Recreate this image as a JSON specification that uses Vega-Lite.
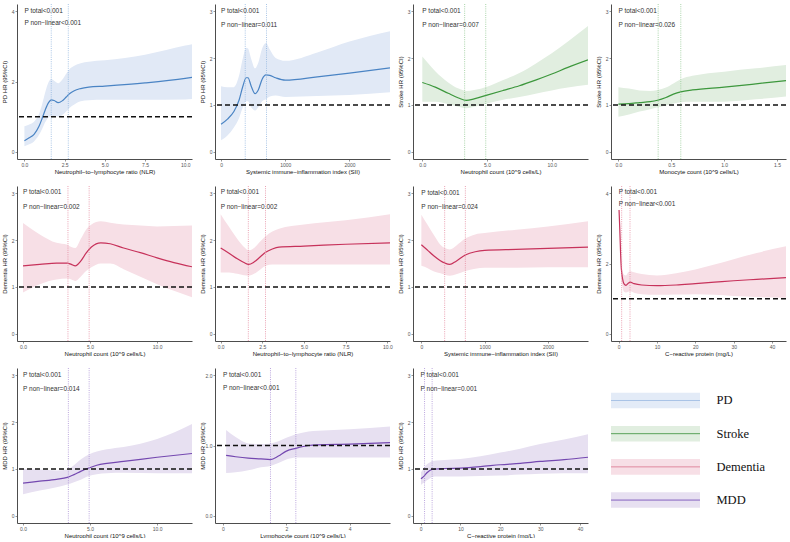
{
"$schema":"https://vega.github.io/schema/vega-lite/v6.json",
"background":"white",
"padding":{"left":1,"top":3,"right":0,"bottom":0},
"columns":4,
"bounds":"flush",
"spacing":{"row":27,"column":23},
"datasets":{
"p1":[{"x":0,"hr":0.32,"lo":0.16,"hi":0.73},{"x":0.3,"hr":0.4,"lo":0.22,"hi":0.78},{"x":0.6,"hr":0.5,"lo":0.3,"hi":0.86},{"x":0.9,"hr":0.72,"lo":0.48,"hi":1.07},{"x":1.1,"hr":0.95,"lo":0.65,"hi":1.35},{"x":1.3,"hr":1.2,"lo":0.85,"hi":1.7},{"x":1.5,"hr":1.4,"lo":0.98,"hi":1.98},{"x":1.67,"hr":1.48,"lo":1.02,"hi":2.07},{"x":1.85,"hr":1.46,"lo":1.02,"hi":2.02},{"x":2.1,"hr":1.4,"lo":1.0,"hi":1.95},{"x":2.35,"hr":1.45,"lo":1.05,"hi":2.05},{"x":2.6,"hr":1.56,"lo":1.15,"hi":2.22},{"x":2.8,"hr":1.65,"lo":1.25,"hi":2.35},{"x":3.1,"hr":1.74,"lo":1.35,"hi":2.45},{"x":3.5,"hr":1.8,"lo":1.44,"hi":2.52},{"x":4.0,"hr":1.84,"lo":1.47,"hi":2.56},{"x":5.0,"hr":1.87,"lo":1.48,"hi":2.6},{"x":7.5,"hr":1.96,"lo":1.48,"hi":2.76},{"x":10.0,"hr":2.09,"lo":1.49,"hi":3.02},{"x":10.42,"hr":2.12,"lo":1.5,"hi":3.06}],
"p2":[{"x":0,"hr":0.59,"lo":0.25,"hi":1.4},{"x":100,"hr":0.7,"lo":0.35,"hi":1.38},{"x":200,"hr":0.86,"lo":0.52,"hi":1.38},{"x":280,"hr":1.1,"lo":0.72,"hi":1.62},{"x":340,"hr":1.4,"lo":0.95,"hi":2.0},{"x":390,"hr":1.58,"lo":1.08,"hi":2.22},{"x":420,"hr":1.58,"lo":1.08,"hi":2.2},{"x":470,"hr":1.4,"lo":0.95,"hi":1.98},{"x":530,"hr":1.24,"lo":0.88,"hi":1.78},{"x":580,"hr":1.32,"lo":0.95,"hi":1.9},{"x":640,"hr":1.55,"lo":1.08,"hi":2.2},{"x":700,"hr":1.64,"lo":1.12,"hi":2.32},{"x":760,"hr":1.63,"lo":1.18,"hi":2.18},{"x":850,"hr":1.58,"lo":1.2,"hi":2.0},{"x":1000,"hr":1.53,"lo":1.17,"hi":1.94},{"x":1500,"hr":1.6,"lo":1.19,"hi":2.12},{"x":2000,"hr":1.68,"lo":1.21,"hi":2.35},{"x":2631,"hr":1.79,"lo":1.27,"hi":2.57}],
"p3":[{"x":0,"hr":1.48,"lo":1.07,"hi":2.03},{"x":1.0,"hr":1.38,"lo":1.07,"hi":1.72},{"x":2.0,"hr":1.25,"lo":1.02,"hi":1.48},{"x":2.8,"hr":1.15,"lo":0.96,"hi":1.35},{"x":3.4,"hr":1.1,"lo":0.93,"hi":1.3},{"x":4.0,"hr":1.13,"lo":0.96,"hi":1.32},{"x":5.0,"hr":1.21,"lo":1.03,"hi":1.39},{"x":6.25,"hr":1.31,"lo":1.11,"hi":1.53},{"x":7.5,"hr":1.41,"lo":1.17,"hi":1.68},{"x":8.75,"hr":1.53,"lo":1.24,"hi":1.88},{"x":10.0,"hr":1.66,"lo":1.31,"hi":2.1},{"x":11.25,"hr":1.8,"lo":1.37,"hi":2.35},{"x":12.8,"hr":1.96,"lo":1.43,"hi":2.68}],
"p4":[{"x":0,"hr":1.02,"lo":0.75,"hi":1.38},{"x":0.1,"hr":1.03,"lo":0.8,"hi":1.35},{"x":0.2,"hr":1.05,"lo":0.86,"hi":1.31},{"x":0.3,"hr":1.07,"lo":0.91,"hi":1.3},{"x":0.37,"hr":1.1,"lo":0.95,"hi":1.32},{"x":0.45,"hr":1.16,"lo":0.99,"hi":1.37},{"x":0.52,"hr":1.23,"lo":1.03,"hi":1.46},{"x":0.59,"hr":1.28,"lo":1.06,"hi":1.55},{"x":0.7,"hr":1.32,"lo":1.07,"hi":1.62},{"x":1.0,"hr":1.38,"lo":1.07,"hi":1.71},{"x":1.3,"hr":1.45,"lo":1.12,"hi":1.78},{"x":1.585,"hr":1.52,"lo":1.18,"hi":1.85}],
"p5":[{"x":0,"hr":1.45,"lo":0.88,"hi":2.36},{"x":1.25,"hr":1.48,"lo":1.06,"hi":2.12},{"x":2.5,"hr":1.51,"lo":1.16,"hi":1.94},{"x":3.3,"hr":1.51,"lo":1.18,"hi":1.9},{"x":3.6,"hr":1.48,"lo":1.16,"hi":1.85},{"x":3.9,"hr":1.45,"lo":1.13,"hi":1.83},{"x":4.3,"hr":1.55,"lo":1.22,"hi":2.02},{"x":4.7,"hr":1.72,"lo":1.34,"hi":2.22},{"x":5.1,"hr":1.85,"lo":1.42,"hi":2.33},{"x":5.8,"hr":1.94,"lo":1.5,"hi":2.4},{"x":6.5,"hr":1.92,"lo":1.5,"hi":2.37},{"x":7.5,"hr":1.83,"lo":1.38,"hi":2.33},{"x":8.75,"hr":1.73,"lo":1.22,"hi":2.31},{"x":10,"hr":1.62,"lo":1.06,"hi":2.29},{"x":11.25,"hr":1.52,"lo":0.92,"hi":2.3},{"x":12.6,"hr":1.43,"lo":0.78,"hi":2.31}],
"p6":[{"x":0,"hr":1.83,"lo":1.31,"hi":2.55},{"x":0.5,"hr":1.72,"lo":1.31,"hi":2.28},{"x":1.0,"hr":1.6,"lo":1.28,"hi":2.02},{"x":1.4,"hr":1.52,"lo":1.25,"hi":1.85},{"x":1.68,"hr":1.48,"lo":1.24,"hi":1.78},{"x":2.0,"hr":1.53,"lo":1.28,"hi":1.83},{"x":2.4,"hr":1.65,"lo":1.38,"hi":1.98},{"x":2.7,"hr":1.74,"lo":1.45,"hi":2.08},{"x":3.1,"hr":1.81,"lo":1.48,"hi":2.18},{"x":3.5,"hr":1.85,"lo":1.48,"hi":2.24},{"x":5.0,"hr":1.87,"lo":1.48,"hi":2.33},{"x":7.5,"hr":1.91,"lo":1.48,"hi":2.42},{"x":10.16,"hr":1.94,"lo":1.48,"hi":2.55}],
"p7":[{"x":0,"hr":1.9,"lo":1.45,"hi":2.54},{"x":100,"hr":1.78,"lo":1.4,"hi":2.32},{"x":200,"hr":1.66,"lo":1.33,"hi":2.1},{"x":300,"hr":1.56,"lo":1.29,"hi":1.9},{"x":370,"hr":1.51,"lo":1.26,"hi":1.83},{"x":450,"hr":1.48,"lo":1.24,"hi":1.8},{"x":550,"hr":1.55,"lo":1.27,"hi":1.88},{"x":695,"hr":1.68,"lo":1.34,"hi":2.03},{"x":850,"hr":1.75,"lo":1.39,"hi":2.12},{"x":1000,"hr":1.78,"lo":1.41,"hi":2.15},{"x":1500,"hr":1.8,"lo":1.41,"hi":2.22},{"x":2000,"hr":1.82,"lo":1.42,"hi":2.29},{"x":2632,"hr":1.85,"lo":1.42,"hi":2.4}],
"p8":[{"x":0.1,"hr":3.52,"lo":3.4,"hi":3.62},{"x":0.3,"hr":2.95,"lo":2.75,"hi":3.1},{"x":0.5,"hr":2.3,"lo":2.05,"hi":2.5},{"x":0.7,"hr":1.85,"lo":1.6,"hi":2.05},{"x":1.0,"hr":1.58,"lo":1.35,"hi":1.8},{"x":1.4,"hr":1.42,"lo":1.2,"hi":1.68},{"x":1.9,"hr":1.38,"lo":1.18,"hi":1.66},{"x":2.5,"hr":1.44,"lo":1.2,"hi":1.75},{"x":3.0,"hr":1.47,"lo":1.21,"hi":1.78},{"x":4.0,"hr":1.43,"lo":1.17,"hi":1.75},{"x":6.0,"hr":1.39,"lo":1.13,"hi":1.7},{"x":10,"hr":1.37,"lo":1.11,"hi":1.66},{"x":15,"hr":1.39,"lo":1.12,"hi":1.72},{"x":20,"hr":1.43,"lo":1.13,"hi":1.83},{"x":25,"hr":1.47,"lo":1.11,"hi":1.97},{"x":30,"hr":1.51,"lo":1.08,"hi":2.12},{"x":36,"hr":1.55,"lo":1.05,"hi":2.3},{"x":43.65,"hr":1.6,"lo":1.03,"hi":2.49}],
"p9":[{"x":0,"hr":0.7,"lo":0.46,"hi":1.0},{"x":1.25,"hr":0.74,"lo":0.54,"hi":0.99},{"x":2.5,"hr":0.78,"lo":0.61,"hi":0.97},{"x":3.3,"hr":0.82,"lo":0.67,"hi":0.99},{"x":3.8,"hr":0.88,"lo":0.72,"hi":1.08},{"x":4.3,"hr":0.95,"lo":0.77,"hi":1.2},{"x":4.9,"hr":1.02,"lo":0.85,"hi":1.31},{"x":5.5,"hr":1.08,"lo":0.89,"hi":1.37},{"x":6.25,"hr":1.12,"lo":0.91,"hi":1.42},{"x":7.5,"hr":1.16,"lo":0.92,"hi":1.47},{"x":10,"hr":1.25,"lo":0.91,"hi":1.64},{"x":12.6,"hr":1.33,"lo":0.91,"hi":1.96}],
"p10":[{"x":0.1,"hr":0.86,"lo":0.61,"hi":1.22},{"x":0.4,"hr":0.84,"lo":0.62,"hi":1.12},{"x":0.8,"hr":0.82,"lo":0.65,"hi":1.03},{"x":1.2,"hr":0.81,"lo":0.69,"hi":1.02},{"x":1.5,"hr":0.8,"lo":0.71,"hi":1.03},{"x":1.75,"hr":0.85,"lo":0.75,"hi":1.06},{"x":2.0,"hr":0.92,"lo":0.8,"hi":1.11},{"x":2.3,"hr":0.96,"lo":0.83,"hi":1.16},{"x":2.7,"hr":1.0,"lo":0.83,"hi":1.2},{"x":3.0,"hr":1.01,"lo":0.83,"hi":1.21},{"x":4.0,"hr":1.02,"lo":0.83,"hi":1.23},{"x":5.27,"hr":1.04,"lo":0.83,"hi":1.27}],
"p11":[{"x":0.1,"hr":0.79,"lo":0.66,"hi":0.93},{"x":0.5,"hr":0.82,"lo":0.69,"hi":0.98},{"x":1.0,"hr":0.86,"lo":0.72,"hi":1.04},{"x":1.6,"hr":0.92,"lo":0.76,"hi":1.1},{"x":2.3,"hr":0.97,"lo":0.8,"hi":1.14},{"x":3.0,"hr":0.99,"lo":0.83,"hi":1.17},{"x":4.0,"hr":1.0,"lo":0.84,"hi":1.18},{"x":6.0,"hr":1.01,"lo":0.84,"hi":1.19},{"x":10,"hr":1.02,"lo":0.84,"hi":1.21},{"x":15,"hr":1.05,"lo":0.85,"hi":1.27},{"x":20,"hr":1.09,"lo":0.86,"hi":1.35},{"x":25,"hr":1.12,"lo":0.88,"hi":1.43},{"x":30,"hr":1.16,"lo":0.9,"hi":1.53},{"x":36,"hr":1.2,"lo":0.91,"hi":1.63},{"x":42,"hr":1.25,"lo":0.91,"hi":1.74}],
"k1":[{"k":1.67},{"k":2.73}],
"k2":[{"k":377},{"k":708}],
"k3":[{"k":3.27},{"k":4.9}],
"k4":[{"k":0.376},{"k":0.59}],
"k5":[{"k":3.35},{"k":4.93}],
"k6":[{"k":1.66},{"k":2.69}],
"k7":[{"k":368},{"k":695}],
"k8":[{"k":0.78},{"k":2.96}],
"k9":[{"k":3.38},{"k":4.93}],
"k10":[{"k":1.5},{"k":2.3}],
"k11":[{"k":1.0},{"k":2.9}],
"groups":[{"g":"PD"},{"g":"Stroke"},{"g":"Dementia"},{"g":"MDD"}],
"one":[{}]
},
"concat":[
{"width":175,"height":155,"layer":[
 {"data":{"name":"p1"},"mark":{"type":"area","color":"#e1e9f6","interpolate":"monotone","clip":true},"encoding":{"x":{"field":"x","type":"quantitative","scale":{"domain":[-0.46,10.42],"nice":false,"zero":false},"axis":{"title":"Neutrophil−to−lymphocyte ratio (NLR)","values":[0,2.5,5,7.5,10],"format":".1f","labelOverlap":false}},"y":{"field":"lo","type":"quantitative","scale":{"domain":[-0.2,4.2],"nice":false,"zero":false},"axis":{"title":"PD HR (95%CI)","values":[0,1,2,3,4],"format":"d","labelOverlap":false}},"y2":{"field":"hi"}}},
 {"data":{"name":"p1"},"mark":{"type":"line","color":"#4a84c4","strokeWidth":1.2,"interpolate":"monotone","clip":true},"encoding":{"x":{"field":"x","type":"quantitative"},"y":{"field":"hr","type":"quantitative"}}},
 {"data":{"name":"k1"},"mark":{"type":"rule","color":"#93b6e0","strokeDash":[1,1.2],"strokeWidth":0.8},"encoding":{"x":{"field":"k","type":"quantitative"}}},
 {"data":{"name":"one"},"mark":{"type":"rule","color":"#111","strokeDash":[5,3],"strokeWidth":1.4},"encoding":{"y":{"datum":1}}},
 {"data":{"name":"one"},"mark":{"type":"text","align":"left","baseline":"middle","fontSize":6.5,"font":"Liberation Sans","color":"#333"},"encoding":{"x":{"datum":0},"y":{"datum":4},"text":{"value":"P total<0.001"}}},
 {"data":{"name":"one"},"mark":{"type":"text","align":"left","baseline":"middle","fontSize":6.5,"font":"Liberation Sans","color":"#333"},"encoding":{"x":{"datum":0},"y":{"datum":3.66},"text":{"value":"P non−linear<0.001"}}}
]},
{"width":175,"height":155,"layer":[
 {"data":{"name":"p2"},"mark":{"type":"area","color":"#e1e9f6","interpolate":"monotone","clip":true},"encoding":{"x":{"field":"x","type":"quantitative","scale":{"domain":[-94,2631],"nice":false,"zero":false},"axis":{"title":"Systemic immune−inflammation index (SII)","values":[0,500,1000,1500,2000,2500],"format":"d","labelOverlap":false}},"y":{"field":"lo","type":"quantitative","scale":{"domain":[-0.15,3.15],"nice":false,"zero":false},"axis":{"title":"PD HR (95%CI)","values":[0,1,2,3],"format":"d","labelOverlap":false}},"y2":{"field":"hi"}}},
 {"data":{"name":"p2"},"mark":{"type":"line","color":"#4a84c4","strokeWidth":1.2,"interpolate":"monotone","clip":true},"encoding":{"x":{"field":"x","type":"quantitative"},"y":{"field":"hr","type":"quantitative"}}},
 {"data":{"name":"k2"},"mark":{"type":"rule","color":"#93b6e0","strokeDash":[1,1.2],"strokeWidth":0.8},"encoding":{"x":{"field":"k","type":"quantitative"}}},
 {"data":{"name":"one"},"mark":{"type":"rule","color":"#111","strokeDash":[5,3],"strokeWidth":1.4},"encoding":{"y":{"datum":1}}},
 {"data":{"name":"one"},"mark":{"type":"text","align":"left","baseline":"middle","fontSize":6.5,"font":"Liberation Sans","color":"#333"},"encoding":{"x":{"datum":0},"y":{"datum":3},"text":{"value":"P total<0.001"}}},
 {"data":{"name":"one"},"mark":{"type":"text","align":"left","baseline":"middle","fontSize":6.5,"font":"Liberation Sans","color":"#333"},"encoding":{"x":{"datum":0},"y":{"datum":2.71},"text":{"value":"P non−linear=0.011"}}}
]},
{"width":175,"height":155,"layer":[
 {"data":{"name":"p3"},"mark":{"type":"area","color":"#e1eee0","interpolate":"monotone","clip":true},"encoding":{"x":{"field":"x","type":"quantitative","scale":{"domain":[-0.72,12.8],"nice":false,"zero":false},"axis":{"title":"Neutrophil count (10^9 cells/L)","values":[0,2.5,5,7.5,10,12.5],"format":".1f","labelOverlap":false}},"y":{"field":"lo","type":"quantitative","scale":{"domain":[-0.15,3.15],"nice":false,"zero":false},"axis":{"title":"Stroke HR (95%CI)","values":[0,1,2,3],"format":"d","labelOverlap":false}},"y2":{"field":"hi"}}},
 {"data":{"name":"p3"},"mark":{"type":"line","color":"#3c973c","strokeWidth":1.2,"interpolate":"monotone","clip":true},"encoding":{"x":{"field":"x","type":"quantitative"},"y":{"field":"hr","type":"quantitative"}}},
 {"data":{"name":"k3"},"mark":{"type":"rule","color":"#93c993","strokeDash":[1,1.2],"strokeWidth":0.8},"encoding":{"x":{"field":"k","type":"quantitative"}}},
 {"data":{"name":"one"},"mark":{"type":"rule","color":"#111","strokeDash":[5,3],"strokeWidth":1.4},"encoding":{"y":{"datum":1}}},
 {"data":{"name":"one"},"mark":{"type":"text","align":"left","baseline":"middle","fontSize":6.5,"font":"Liberation Sans","color":"#333"},"encoding":{"x":{"datum":0},"y":{"datum":3},"text":{"value":"P total<0.001"}}},
 {"data":{"name":"one"},"mark":{"type":"text","align":"left","baseline":"middle","fontSize":6.5,"font":"Liberation Sans","color":"#333"},"encoding":{"x":{"datum":0},"y":{"datum":2.71},"text":{"value":"P non−linear=0.007"}}}
]},
{"width":175,"height":155,"layer":[
 {"data":{"name":"p4"},"mark":{"type":"area","color":"#e1eee0","interpolate":"monotone","clip":true},"encoding":{"x":{"field":"x","type":"quantitative","scale":{"domain":[-0.07,1.585],"nice":false,"zero":false},"axis":{"title":"Monocyte count (10^9 cells/L)","values":[0,0.5,1,1.5],"format":".1f","labelOverlap":false}},"y":{"field":"lo","type":"quantitative","scale":{"domain":[-0.15,3.15],"nice":false,"zero":false},"axis":{"title":"Stroke HR (95%CI)","values":[0,1,2,3],"format":"d","labelOverlap":false}},"y2":{"field":"hi"}}},
 {"data":{"name":"p4"},"mark":{"type":"line","color":"#3c973c","strokeWidth":1.2,"interpolate":"monotone","clip":true},"encoding":{"x":{"field":"x","type":"quantitative"},"y":{"field":"hr","type":"quantitative"}}},
 {"data":{"name":"k4"},"mark":{"type":"rule","color":"#93c993","strokeDash":[1,1.2],"strokeWidth":0.8},"encoding":{"x":{"field":"k","type":"quantitative"}}},
 {"data":{"name":"one"},"mark":{"type":"rule","color":"#111","strokeDash":[5,3],"strokeWidth":1.4},"encoding":{"y":{"datum":1}}},
 {"data":{"name":"one"},"mark":{"type":"text","align":"left","baseline":"middle","fontSize":6.5,"font":"Liberation Sans","color":"#333"},"encoding":{"x":{"datum":0},"y":{"datum":3},"text":{"value":"P total<0.001"}}},
 {"data":{"name":"one"},"mark":{"type":"text","align":"left","baseline":"middle","fontSize":6.5,"font":"Liberation Sans","color":"#333"},"encoding":{"x":{"datum":0},"y":{"datum":2.71},"text":{"value":"P non−linear=0.026"}}}
]},
{"width":175,"height":155,"layer":[
 {"data":{"name":"p5"},"mark":{"type":"area","color":"#f7dfe6","interpolate":"monotone","clip":true},"encoding":{"x":{"field":"x","type":"quantitative","scale":{"domain":[-0.45,12.6],"nice":false,"zero":false},"axis":{"title":"Neutrophil count (10^9 cells/L)","values":[0,2.5,5,7.5,10,12.5],"format":".1f","labelOverlap":false}},"y":{"field":"lo","type":"quantitative","scale":{"domain":[-0.15,3.15],"nice":false,"zero":false},"axis":{"title":"Dementia HR (95%CI)","values":[0,1,2,3],"format":"d","labelOverlap":false}},"y2":{"field":"hi"}}},
 {"data":{"name":"p5"},"mark":{"type":"line","color":"#c7325b","strokeWidth":1.2,"interpolate":"monotone","clip":true},"encoding":{"x":{"field":"x","type":"quantitative"},"y":{"field":"hr","type":"quantitative"}}},
 {"data":{"name":"k5"},"mark":{"type":"rule","color":"#e48aa0","strokeDash":[1,1.2],"strokeWidth":0.8},"encoding":{"x":{"field":"k","type":"quantitative"}}},
 {"data":{"name":"one"},"mark":{"type":"rule","color":"#111","strokeDash":[5,3],"strokeWidth":1.4},"encoding":{"y":{"datum":1}}},
 {"data":{"name":"one"},"mark":{"type":"text","align":"left","baseline":"middle","fontSize":6.5,"font":"Liberation Sans","color":"#333"},"encoding":{"x":{"datum":0},"y":{"datum":3.02},"text":{"value":"P total<0.001"}}},
 {"data":{"name":"one"},"mark":{"type":"text","align":"left","baseline":"middle","fontSize":6.5,"font":"Liberation Sans","color":"#333"},"encoding":{"x":{"datum":0},"y":{"datum":2.7},"text":{"value":"P non−linear=0.002"}}}
]},
{"width":175,"height":155,"layer":[
 {"data":{"name":"p6"},"mark":{"type":"area","color":"#f7dfe6","interpolate":"monotone","clip":true},"encoding":{"x":{"field":"x","type":"quantitative","scale":{"domain":[-0.34,10.16],"nice":false,"zero":false},"axis":{"title":"Neutrophil−to−lymphocyte ratio (NLR)","values":[0,2.5,5,7.5,10],"format":".1f","labelOverlap":false}},"y":{"field":"lo","type":"quantitative","scale":{"domain":[-0.15,3.15],"nice":false,"zero":false},"axis":{"title":"Dementia HR (95%CI)","values":[0,1,2,3],"format":"d","labelOverlap":false}},"y2":{"field":"hi"}}},
 {"data":{"name":"p6"},"mark":{"type":"line","color":"#c7325b","strokeWidth":1.2,"interpolate":"monotone","clip":true},"encoding":{"x":{"field":"x","type":"quantitative"},"y":{"field":"hr","type":"quantitative"}}},
 {"data":{"name":"k6"},"mark":{"type":"rule","color":"#e48aa0","strokeDash":[1,1.2],"strokeWidth":0.8},"encoding":{"x":{"field":"k","type":"quantitative"}}},
 {"data":{"name":"one"},"mark":{"type":"rule","color":"#111","strokeDash":[5,3],"strokeWidth":1.4},"encoding":{"y":{"datum":1}}},
 {"data":{"name":"one"},"mark":{"type":"text","align":"left","baseline":"middle","fontSize":6.5,"font":"Liberation Sans","color":"#333"},"encoding":{"x":{"datum":0},"y":{"datum":3.02},"text":{"value":"P total<0.001"}}},
 {"data":{"name":"one"},"mark":{"type":"text","align":"left","baseline":"middle","fontSize":6.5,"font":"Liberation Sans","color":"#333"},"encoding":{"x":{"datum":0},"y":{"datum":2.7},"text":{"value":"P non−linear=0.002"}}}
]},
{"width":175,"height":155,"layer":[
 {"data":{"name":"p7"},"mark":{"type":"area","color":"#f7dfe6","interpolate":"monotone","clip":true},"encoding":{"x":{"field":"x","type":"quantitative","scale":{"domain":[-132,2632],"nice":false,"zero":false},"axis":{"title":"Systemic immune−inflammation index (SII)","values":[0,500,1000,1500,2000,2500],"format":"d","labelOverlap":false}},"y":{"field":"lo","type":"quantitative","scale":{"domain":[-0.15,3.15],"nice":false,"zero":false},"axis":{"title":"Dementia HR (95%CI)","values":[0,1,2,3],"format":"d","labelOverlap":false}},"y2":{"field":"hi"}}},
 {"data":{"name":"p7"},"mark":{"type":"line","color":"#c7325b","strokeWidth":1.2,"interpolate":"monotone","clip":true},"encoding":{"x":{"field":"x","type":"quantitative"},"y":{"field":"hr","type":"quantitative"}}},
 {"data":{"name":"k7"},"mark":{"type":"rule","color":"#e48aa0","strokeDash":[1,1.2],"strokeWidth":0.8},"encoding":{"x":{"field":"k","type":"quantitative"}}},
 {"data":{"name":"one"},"mark":{"type":"rule","color":"#111","strokeDash":[5,3],"strokeWidth":1.4},"encoding":{"y":{"datum":1}}},
 {"data":{"name":"one"},"mark":{"type":"text","align":"left","baseline":"middle","fontSize":6.5,"font":"Liberation Sans","color":"#333"},"encoding":{"x":{"datum":0},"y":{"datum":3.0},"text":{"value":"P total<0.001"}}},
 {"data":{"name":"one"},"mark":{"type":"text","align":"left","baseline":"middle","fontSize":6.5,"font":"Liberation Sans","color":"#333"},"encoding":{"x":{"datum":0},"y":{"datum":2.7},"text":{"value":"P non−linear=0.024"}}}
]},
{"width":175,"height":155,"layer":[
 {"data":{"name":"p8"},"mark":{"type":"area","color":"#f7dfe6","interpolate":"monotone","clip":true},"encoding":{"x":{"field":"x","type":"quantitative","scale":{"domain":[-2.0,43.65],"nice":false,"zero":false},"axis":{"title":"C−reactive protein (mg/L)","values":[0,10,20,30,40],"format":"d","labelOverlap":false}},"y":{"field":"lo","type":"quantitative","scale":{"domain":[-0.2,4.2],"nice":false,"zero":false},"axis":{"title":"Dementia HR (95%CI)","values":[0,1,2,3,4],"format":"d","labelOverlap":false}},"y2":{"field":"hi"}}},
 {"data":{"name":"p8"},"mark":{"type":"line","color":"#c7325b","strokeWidth":1.2,"interpolate":"monotone","clip":true},"encoding":{"x":{"field":"x","type":"quantitative"},"y":{"field":"hr","type":"quantitative"}}},
 {"data":{"name":"k8"},"mark":{"type":"rule","color":"#e48aa0","strokeDash":[1,1.2],"strokeWidth":0.8},"encoding":{"x":{"field":"k","type":"quantitative"}}},
 {"data":{"name":"one"},"mark":{"type":"rule","color":"#111","strokeDash":[5,3],"strokeWidth":1.4},"encoding":{"y":{"datum":1}}},
 {"data":{"name":"one"},"mark":{"type":"text","align":"left","baseline":"middle","fontSize":6.5,"font":"Liberation Sans","color":"#333"},"encoding":{"x":{"datum":0},"y":{"datum":4.03},"text":{"value":"P total<0.001"}}},
 {"data":{"name":"one"},"mark":{"type":"text","align":"left","baseline":"middle","fontSize":6.5,"font":"Liberation Sans","color":"#333"},"encoding":{"x":{"datum":0},"y":{"datum":3.69},"text":{"value":"P non−linear<0.001"}}}
]},
{"width":175,"height":155,"layer":[
 {"data":{"name":"p9"},"mark":{"type":"area","color":"#e7e0f1","interpolate":"monotone","clip":true},"encoding":{"x":{"field":"x","type":"quantitative","scale":{"domain":[-0.45,12.6],"nice":false,"zero":false},"axis":{"title":"Neutrophil count (10^9 cells/L)","values":[0,2.5,5,7.5,10,12.5],"format":".1f","labelOverlap":false}},"y":{"field":"lo","type":"quantitative","scale":{"domain":[-0.15,3.15],"nice":false,"zero":false},"axis":{"title":"MDD HR (95%CI)","values":[0,1,2,3],"format":"d","labelOverlap":false}},"y2":{"field":"hi"}}},
 {"data":{"name":"p9"},"mark":{"type":"line","color":"#7448b0","strokeWidth":1.2,"interpolate":"monotone","clip":true},"encoding":{"x":{"field":"x","type":"quantitative"},"y":{"field":"hr","type":"quantitative"}}},
 {"data":{"name":"k9"},"mark":{"type":"rule","color":"#ab90d6","strokeDash":[1,1.2],"strokeWidth":0.8},"encoding":{"x":{"field":"k","type":"quantitative"}}},
 {"data":{"name":"one"},"mark":{"type":"rule","color":"#111","strokeDash":[5,3],"strokeWidth":1.4},"encoding":{"y":{"datum":1}}},
 {"data":{"name":"one"},"mark":{"type":"text","align":"left","baseline":"middle","fontSize":6.5,"font":"Liberation Sans","color":"#333"},"encoding":{"x":{"datum":0},"y":{"datum":3.0},"text":{"value":"P total<0.001"}}},
 {"data":{"name":"one"},"mark":{"type":"text","align":"left","baseline":"middle","fontSize":6.5,"font":"Liberation Sans","color":"#333"},"encoding":{"x":{"datum":0},"y":{"datum":2.71},"text":{"value":"P non−linear=0.014"}}}
]},
{"width":175,"height":155,"layer":[
 {"data":{"name":"p10"},"mark":{"type":"area","color":"#e7e0f1","interpolate":"monotone","clip":true},"encoding":{"x":{"field":"x","type":"quantitative","scale":{"domain":[-0.25,5.27],"nice":false,"zero":false},"axis":{"title":"Lymphocyte count (10^9 cells/L)","values":[0,1,2,3,4,5],"format":"d","labelOverlap":false}},"y":{"field":"lo","type":"quantitative","scale":{"domain":[-0.1,2.1],"nice":false,"zero":false},"axis":{"title":"MDD HR (95%CI)","values":[0,0.5,1,1.5,2],"format":".1f","labelOverlap":false}},"y2":{"field":"hi"}}},
 {"data":{"name":"p10"},"mark":{"type":"line","color":"#7448b0","strokeWidth":1.2,"interpolate":"monotone","clip":true},"encoding":{"x":{"field":"x","type":"quantitative"},"y":{"field":"hr","type":"quantitative"}}},
 {"data":{"name":"k10"},"mark":{"type":"rule","color":"#ab90d6","strokeDash":[1,1.2],"strokeWidth":0.8},"encoding":{"x":{"field":"k","type":"quantitative"}}},
 {"data":{"name":"one"},"mark":{"type":"rule","color":"#111","strokeDash":[5,3],"strokeWidth":1.4},"encoding":{"y":{"datum":1}}},
 {"data":{"name":"one"},"mark":{"type":"text","align":"left","baseline":"middle","fontSize":6.5,"font":"Liberation Sans","color":"#333"},"encoding":{"x":{"datum":0},"y":{"datum":2.0},"text":{"value":"P total<0.001"}}},
 {"data":{"name":"one"},"mark":{"type":"text","align":"left","baseline":"middle","fontSize":6.5,"font":"Liberation Sans","color":"#333"},"encoding":{"x":{"datum":0},"y":{"datum":1.81},"text":{"value":"P non−linear<0.001"}}}
]},
{"width":175,"height":155,"layer":[
 {"data":{"name":"p11"},"mark":{"type":"area","color":"#e7e0f1","interpolate":"monotone","clip":true},"encoding":{"x":{"field":"x","type":"quantitative","scale":{"domain":[-1.9,42],"nice":false,"zero":false},"axis":{"title":"C−reactive protein (mg/L)","values":[0,10,20,30,40],"format":"d","labelOverlap":false}},"y":{"field":"lo","type":"quantitative","scale":{"domain":[-0.15,3.15],"nice":false,"zero":false},"axis":{"title":"MDD HR (95%CI)","values":[0,1,2,3],"format":"d","labelOverlap":false}},"y2":{"field":"hi"}}},
 {"data":{"name":"p11"},"mark":{"type":"line","color":"#7448b0","strokeWidth":1.2,"interpolate":"monotone","clip":true},"encoding":{"x":{"field":"x","type":"quantitative"},"y":{"field":"hr","type":"quantitative"}}},
 {"data":{"name":"k11"},"mark":{"type":"rule","color":"#ab90d6","strokeDash":[1,1.2],"strokeWidth":0.8},"encoding":{"x":{"field":"k","type":"quantitative"}}},
 {"data":{"name":"one"},"mark":{"type":"rule","color":"#111","strokeDash":[5,3],"strokeWidth":1.4},"encoding":{"y":{"datum":1}}},
 {"data":{"name":"one"},"mark":{"type":"text","align":"left","baseline":"middle","fontSize":6.5,"font":"Liberation Sans","color":"#333"},"encoding":{"x":{"datum":0},"y":{"datum":3.0},"text":{"value":"P total<0.001"}}},
 {"data":{"name":"one"},"mark":{"type":"text","align":"left","baseline":"middle","fontSize":6.5,"font":"Liberation Sans","color":"#333"},"encoding":{"x":{"datum":0},"y":{"datum":2.71},"text":{"value":"P non−linear=0.001"}}}
]},
{"width":89,"height":155,"data":{"name":"groups"},"layer":[
 {"mark":{"type":"rect"},"encoding":{"y":{"field":"g","type":"nominal","sort":null,"scale":{"paddingInner":0.53,"paddingOuter":0.6,"align":0.62},"axis":{"orient":"right","title":null,"domain":false,"ticks":false,"labelFont":"Liberation Serif","labelFontSize":12.5,"labelColor":"#111","labelPadding":16}},"fill":{"field":"g","type":"nominal","sort":null,"scale":{"domain":["PD","Stroke","Dementia","MDD"],"range":["#e3ebf7","#e1eee0","#f7dfe6","#e7e0f1"]},"legend":null}}},
 {"mark":{"type":"rule","strokeWidth":1},"encoding":{"y":{"field":"g","type":"nominal","sort":null,"bandPosition":0.5},"stroke":{"field":"g","type":"nominal","sort":null,"scale":{"domain":["PD","Stroke","Dementia","MDD"],"range":["#a8c3e6","#5aa35a","#e0899e","#8460bf"]},"legend":null}}}
]}
],
"config":{
 "view":{"stroke":null},
 "axis":{"grid":false,"domainColor":"#4d4d4d","domainWidth":1,"tickColor":"#4d4d4d","tickSize":2,"tickWidth":0.6,"labelFontSize":5,"labelColor":"#555555","labelFont":"Liberation Sans","titleFont":"Liberation Sans","titleFontWeight":"normal","titleColor":"#111","labelPadding":1,"labelOverlap":false,"labelFlush":false},
 "axisX":{"titleFontSize":6,"titlePadding":1},
 "axisY":{"titleFontSize":6,"titlePadding":2,"minExtent":8,"maxExtent":8}
}
}
